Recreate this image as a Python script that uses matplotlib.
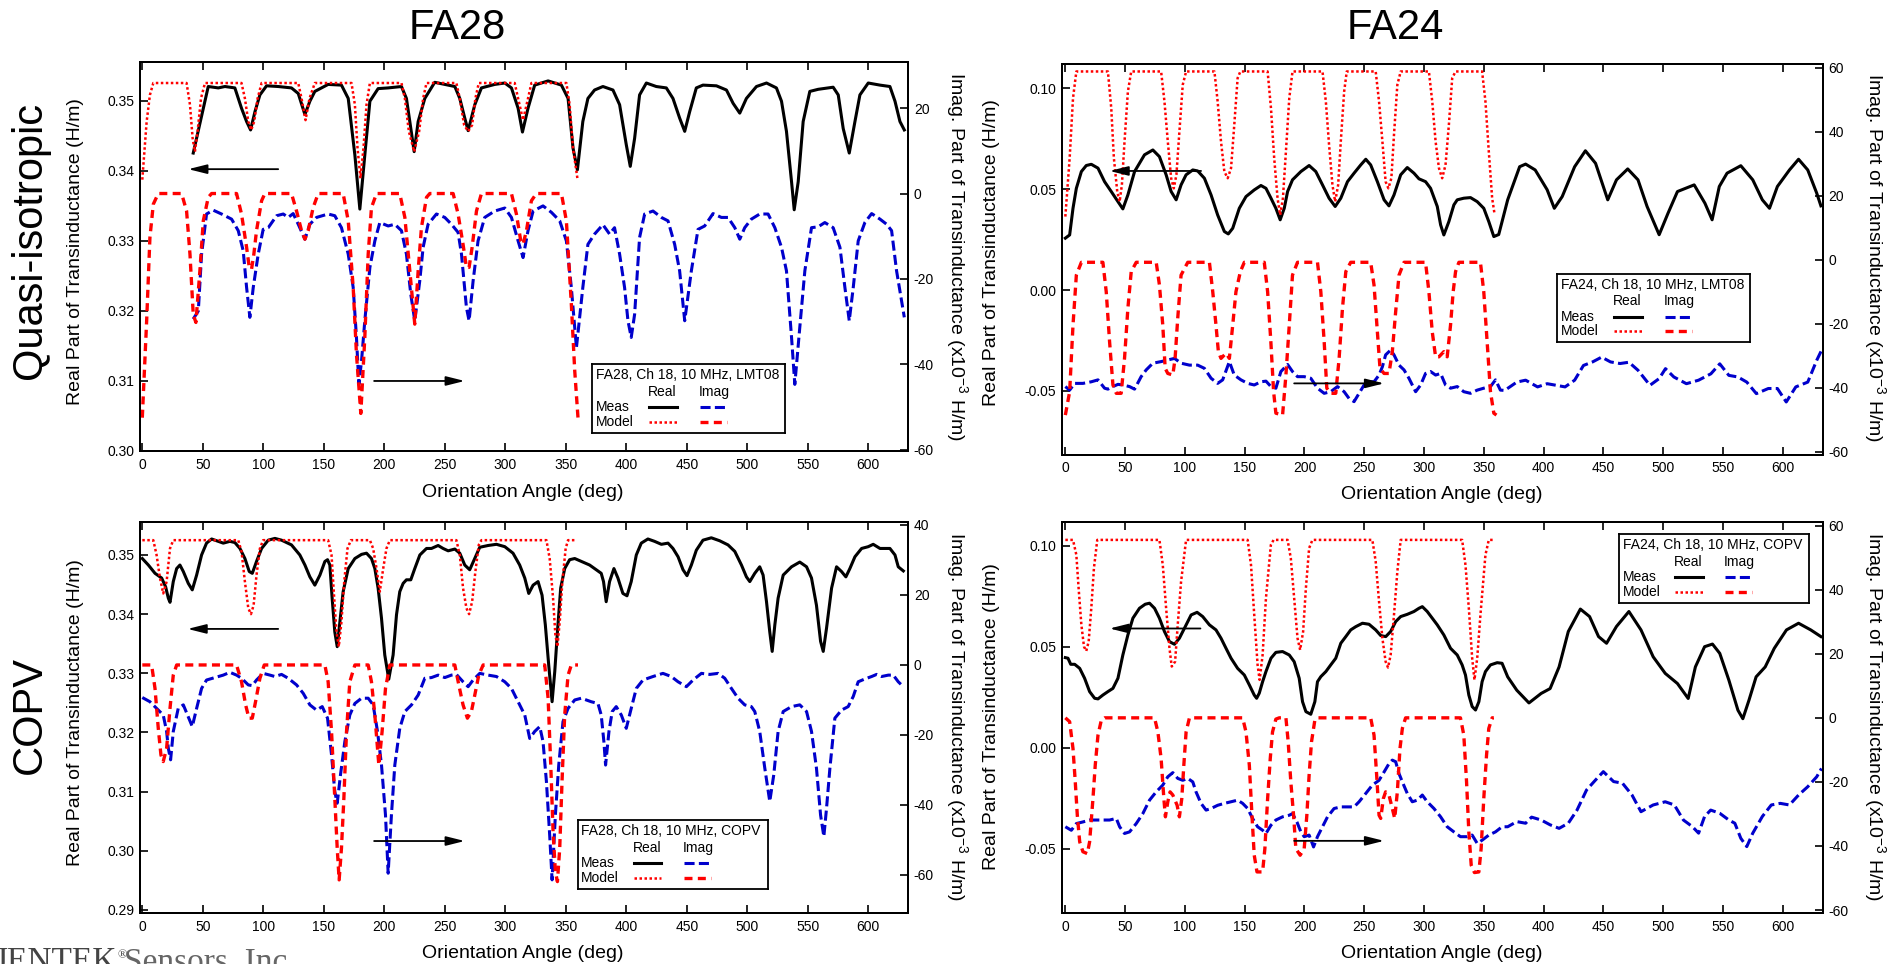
#!/usr/bin/env python3
# -*- coding: utf-8 -*-

import numpy as np
import matplotlib
matplotlib.use('Agg')
import matplotlib.pyplot as plt
from matplotlib.ticker import MultipleLocator, FuncFormatter

plt.rcParams['font.family'] = ['Liberation Sans', 'DejaVu Sans']
plt.rcParams['mathtext.fontset'] = 'custom'
plt.rcParams['mathtext.rm'] = 'Liberation Sans'
plt.rcParams['mathtext.it'] = 'Liberation Sans:italic'
plt.rcParams['axes.unicode_minus'] = False

W, H = 1900, 964

# (angle deg, value) pairs; real part in H/m, imaginary part in 1e-3 H/m

# ---- FA28, quasi-isotropic (LMT08) ----
fa28_qi_meas_re = [
  (42.1, 0.3425), (54.5, 0.3520), (62.8, 0.3518), (68.3, 0.3520), (76.5, 0.3518), (82.0, 0.3489),
  (86.2, 0.3470), (89.5, 0.3458), (93.1, 0.3484), (97.2, 0.3508), (102.7, 0.3521), (112.3, 0.3520),
  (123.3, 0.3518), (128.9, 0.3510), (134.4, 0.3480), (138.5, 0.3499), (142.6, 0.3513), (153.6, 0.3523),
  (164.6, 0.3522), (170.2, 0.3503), (175.7, 0.3422), (179.8, 0.3345), (183.9, 0.3422), (188.1, 0.3499),
  (194.9, 0.3517), (203.2, 0.3518), (214.2, 0.3520), (218.3, 0.3503), (221.1, 0.3470), (224.7, 0.3427),
  (228.0, 0.3470), (233.5, 0.3503), (241.7, 0.3526), (250.0, 0.3523), (258.3, 0.3520), (262.4, 0.3503),
  (266.5, 0.3475), (269.3, 0.3457), (274.8, 0.3494), (280.3, 0.3518), (291.3, 0.3523), (299.6, 0.3525),
  (305.1, 0.3518), (310.6, 0.3489), (314.2, 0.3455), (318.8, 0.3489), (324.3, 0.3522), (335.4, 0.3528),
  (346.4, 0.3522), (351.9, 0.3503), (356.0, 0.3432), (359.6, 0.3401), (364.1, 0.3470), (368.3, 0.3503),
  (373.8, 0.3515), (380.7, 0.3520), (389.0, 0.3515), (394.5, 0.3494), (400.0, 0.3437), (403.3, 0.3406),
  (406.9, 0.3446), (411.0, 0.3508), (416.6, 0.3525), (424.8, 0.3520), (433.1, 0.3518), (438.6, 0.3503),
  (444.1, 0.3475), (448.3, 0.3456), (452.4, 0.3484), (457.9, 0.3518), (463.4, 0.3522), (474.5, 0.3521),
  (482.8, 0.3515), (488.3, 0.3496), (493.8, 0.3482), (499.3, 0.3503), (507.6, 0.3520), (515.9, 0.3525),
  (524.1, 0.3518), (528.3, 0.3499), (532.4, 0.3456), (536.6, 0.3384), (538.8, 0.3344), (542.1, 0.3384),
  (546.2, 0.3470), (551.7, 0.3513), (558.6, 0.3516), (571.0, 0.3519), (575.2, 0.3508), (579.3, 0.3460),
  (584.3, 0.3425), (589.0, 0.3470), (593.1, 0.3508), (600.0, 0.3525), (609.7, 0.3522), (617.9, 0.3520),
  (622.1, 0.3499), (626.2, 0.3470), (629.8, 0.3458)]
fa28_qi_meas_im = [
  (42.1, -29.4), (46.3, -27.5), (49.0, -14.2), (53.1, -4.8), (58.6, -3.9), (65.5, -4.8),
  (73.8, -6.0), (79.3, -8.7), (83.4, -13.4), (86.2, -22.0), (88.9, -29.0), (91.7, -22.0),
  (95.8, -14.2), (99.9, -8.4), (104.1, -8.0), (111.0, -5.2), (116.5, -4.8), (120.6, -5.6),
  (124.7, -4.7), (128.9, -7.2), (134.4, -10.7), (138.5, -7.2), (144.0, -5.6), (153.6, -4.8),
  (159.1, -5.2), (164.6, -8.0), (170.2, -14.2), (174.3, -22.0), (177.0, -33.7), (179.0, -44.7),
  (181.2, -39.2), (183.9, -29.8), (188.1, -17.3), (192.2, -11.1), (196.3, -6.8), (203.2, -7.6),
  (208.7, -7.2), (214.2, -8.7), (218.3, -14.2), (221.9, -23.6), (225.2, -29.8), (229.3, -20.5),
  (232.1, -12.6), (236.2, -7.2), (243.1, -4.8), (250.0, -5.6), (255.5, -7.2), (261.0, -9.1),
  (263.8, -14.2), (267.9, -26.7), (270.1, -29.8), (273.4, -20.5), (277.5, -11.1), (283.0, -5.6),
  (291.3, -4.1), (299.6, -3.4), (305.1, -5.6), (310.6, -11.1), (314.7, -15.0), (318.8, -8.7),
  (323.0, -4.1), (331.2, -2.9), (338.1, -4.4), (345.0, -6.4), (350.5, -11.1), (354.6, -22.0),
  (358.8, -36.1), (364.1, -22.0), (368.3, -11.9), (373.8, -9.5), (380.7, -7.3), (386.2, -9.5),
  (390.3, -8.0), (394.5, -14.2), (398.6, -22.0), (401.4, -29.8), (404.1, -33.7), (406.9, -28.3),
  (411.0, -10.3), (415.2, -4.8), (422.1, -4.1), (429.0, -5.6), (434.5, -6.4), (440.0, -11.9),
  (444.1, -18.1), (448.3, -29.8), (453.8, -18.1), (459.3, -8.4), (464.8, -7.6), (471.7, -4.7),
  (478.6, -5.6), (484.1, -5.6), (489.7, -8.0), (493.8, -10.7), (497.9, -8.0), (503.4, -6.0),
  (510.3, -4.8), (517.2, -4.8), (522.8, -8.0), (528.3, -12.6), (532.4, -18.1), (536.6, -33.7),
  (539.3, -44.7), (543.4, -31.4), (547.6, -18.1), (553.1, -8.0), (558.6, -7.8), (564.1, -6.8),
  (571.0, -8.0), (576.6, -12.6), (580.7, -22.0), (584.3, -29.8), (587.6, -22.0), (591.7, -11.1),
  (597.2, -6.8), (602.8, -4.7), (609.7, -6.0), (615.2, -7.2), (619.3, -8.7), (623.4, -18.1),
  (629.8, -29.0)]
fa28_qi_model_re = [
  (0.0, 0.3387), (3.6, 0.3470), (6.3, 0.3508), (9.1, 0.3525), (36.6, 0.3525), (39.4, 0.3494),
  (41.6, 0.3446), (43.5, 0.3427), (45.7, 0.3456), (48.5, 0.3503), (51.8, 0.3525), (82.0, 0.3525),
  (84.8, 0.3503), (87.6, 0.3470), (90.0, 0.3458), (92.5, 0.3470), (95.3, 0.3503), (98.6, 0.3525),
  (128.9, 0.3525), (131.6, 0.3503), (134.9, 0.3472), (138.2, 0.3503), (142.6, 0.3525), (172.9, 0.3525),
  (175.7, 0.3494), (177.9, 0.3432), (180.3, 0.3389), (182.8, 0.3432), (185.3, 0.3494), (188.1, 0.3525),
  (214.2, 0.3525), (217.0, 0.3503), (220.3, 0.3456), (224.7, 0.3427), (228.8, 0.3456), (232.1, 0.3503),
  (234.9, 0.3525), (259.6, 0.3525), (262.4, 0.3503), (266.0, 0.3465), (269.3, 0.3456), (272.6, 0.3465),
  (275.3, 0.3503), (278.1, 0.3525), (307.8, 0.3525), (310.6, 0.3503), (314.7, 0.3472), (318.8, 0.3503),
  (321.6, 0.3525), (350.5, 0.3525), (353.2, 0.3494), (356.0, 0.3432), (359.6, 0.3389)]
fa28_qi_model_im = [
  (0.0, -52.5), (3.6, -29.8), (6.3, -10.3), (9.1, -2.5), (13.2, 0.0), (32.5, 0.0),
  (36.6, -4.1), (39.4, -14.2), (42.1, -28.3), (44.3, -30.2), (47.6, -18.1), (50.4, -6.4),
  (54.5, -0.9), (57.3, 0.0), (77.9, 0.0), (82.0, -4.8), (86.2, -12.6), (88.4, -17.3),
  (90.3, -17.7), (92.2, -14.2), (94.4, -8.7), (98.6, -1.7), (101.3, 0.0), (123.3, 0.0),
  (127.5, -4.1), (131.6, -8.7), (134.4, -10.7), (137.1, -8.7), (141.2, -3.3), (145.4, 0.0),
  (166.0, 0.0), (170.2, -6.4), (174.3, -22.0), (177.0, -37.6), (180.6, -51.5), (183.9, -33.7),
  (186.7, -14.2), (189.4, -3.3), (193.6, 0.0), (212.8, 0.0), (217.0, -5.6), (221.1, -18.1),
  (225.2, -30.6), (228.0, -18.1), (230.7, -8.0), (234.9, -0.9), (237.6, 0.0), (256.9, 0.0),
  (261.0, -4.8), (265.1, -11.9), (267.9, -17.3), (270.1, -17.3), (272.6, -12.6), (276.2, -4.1),
  (280.3, 0.0), (305.1, 0.0), (309.2, -4.8), (312.8, -11.1), (314.7, -11.9), (317.5, -8.7),
  (321.6, -1.7), (325.7, 0.0), (346.4, 0.0), (350.5, -6.4), (354.6, -25.9), (357.4, -41.5),
  (360.1, -52.5)]

# ---- FA24, quasi-isotropic (LMT08) ----
fa24_qi_meas_re = [
  (0.0, 0.0257), (3.6, 0.0273), (6.4, 0.0405), (9.2, 0.0504), (13.4, 0.0587), (17.5, 0.0617),
  (21.7, 0.0623), (27.3, 0.0604), (32.8, 0.0537), (38.4, 0.0488), (44.0, 0.0438), (48.1, 0.0402),
  (52.3, 0.0471), (57.9, 0.0587), (66.2, 0.0670), (73.2, 0.0694), (78.7, 0.0661), (84.3, 0.0571),
  (88.5, 0.0488), (92.7, 0.0447), (96.8, 0.0521), (101.0, 0.0571), (106.6, 0.0595), (110.7, 0.0590),
  (116.3, 0.0554), (121.9, 0.0471), (127.4, 0.0372), (133.0, 0.0290), (136.3, 0.0278), (140.0, 0.0306),
  (145.5, 0.0405), (151.1, 0.0463), (158.0, 0.0496), (163.6, 0.0518), (167.8, 0.0504), (172.0, 0.0455),
  (176.1, 0.0405), (179.7, 0.0348), (183.1, 0.0405), (185.9, 0.0488), (190.0, 0.0546), (197.0, 0.0587),
  (203.9, 0.0617), (209.5, 0.0587), (215.1, 0.0521), (220.6, 0.0455), (225.7, 0.0414), (230.4, 0.0455),
  (236.0, 0.0537), (241.5, 0.0579), (247.1, 0.0620), (251.3, 0.0648), (255.4, 0.0620), (261.0, 0.0537),
  (266.6, 0.0447), (270.7, 0.0417), (274.9, 0.0471), (280.5, 0.0571), (286.0, 0.0607), (291.6, 0.0579),
  (295.8, 0.0551), (301.3, 0.0537), (305.5, 0.0504), (311.1, 0.0414), (313.9, 0.0323), (316.6, 0.0273),
  (320.8, 0.0339), (325.0, 0.0422), (327.8, 0.0447), (333.3, 0.0455), (338.9, 0.0458), (344.5, 0.0438),
  (350.0, 0.0405), (354.2, 0.0339), (358.4, 0.0265), (362.5, 0.0275), (365.3, 0.0339), (370.0, 0.0447),
  (380.0, 0.0611), (385.0, 0.0624), (393.0, 0.0595), (403.0, 0.0497), (409.0, 0.0405), (415.6, 0.0463),
  (426.0, 0.0611), (435.0, 0.0690), (443.5, 0.0628), (453.7, 0.0447), (461.0, 0.0546), (470.4, 0.0600),
  (479.0, 0.0546), (486.6, 0.0414), (496.7, 0.0274), (504.0, 0.0379), (512.0, 0.0488), (526.0, 0.0521),
  (535.0, 0.0430), (541.0, 0.0348), (547.0, 0.0513), (553.5, 0.0579), (565.0, 0.0616), (575.0, 0.0546),
  (583.0, 0.0447), (589.0, 0.0405), (595.6, 0.0513), (605.7, 0.0595), (613.3, 0.0648), (621.0, 0.0595),
  (628.5, 0.0480), (632.0, 0.0417)]
fa24_qi_meas_im = [
  (0.0, -39.6), (3.6, -40.7), (7.8, -38.6), (14.7, -38.6), (21.7, -38.1), (27.3, -37.5),
  (32.8, -40.1), (35.6, -40.4), (39.8, -39.6), (44.0, -38.9), (48.1, -39.1), (53.7, -39.6),
  (57.9, -40.4), (63.4, -36.5), (67.6, -34.4), (73.2, -32.3), (80.1, -31.8), (85.7, -31.3),
  (91.3, -30.8), (96.8, -32.3), (103.8, -32.9), (110.7, -32.9), (116.3, -33.9), (121.9, -37.0),
  (127.4, -38.6), (131.6, -37.5), (137.2, -31.8), (141.3, -36.0), (146.9, -37.5), (152.5, -38.6),
  (158.0, -39.1), (163.6, -38.1), (167.8, -37.9), (172.0, -39.6), (176.1, -40.1), (180.3, -34.9),
  (185.9, -32.7), (190.0, -34.9), (194.2, -36.5), (199.8, -36.5), (205.3, -37.0), (210.9, -40.1),
  (216.5, -41.7), (222.0, -41.2), (227.6, -39.6), (233.2, -41.2), (237.3, -43.3), (241.5, -44.3),
  (245.7, -41.7), (249.9, -39.1), (254.0, -38.1), (258.2, -38.1), (262.4, -36.0), (265.2, -33.4),
  (267.9, -29.7), (272.1, -28.2), (274.9, -29.7), (279.1, -32.9), (283.3, -34.4), (287.4, -37.0),
  (293.0, -41.2), (297.2, -39.1), (301.3, -35.5), (305.5, -34.9), (309.7, -36.0), (313.9, -35.5),
  (318.0, -39.1), (322.2, -40.1), (327.8, -39.6), (333.3, -41.2), (338.9, -41.7), (344.5, -40.7),
  (350.0, -40.1), (355.6, -39.6), (359.8, -37.5), (363.9, -40.7), (367.5, -40.8), (377.6, -38.2),
  (385.0, -37.6), (395.0, -39.7), (403.0, -38.7), (410.6, -39.2), (418.0, -39.7), (426.0, -37.6),
  (433.4, -33.0), (441.0, -31.9), (448.6, -30.4), (456.0, -31.9), (464.0, -32.4), (471.4, -32.0),
  (479.0, -34.5), (489.0, -39.2), (496.7, -37.1), (502.0, -34.0), (509.0, -36.6), (519.5, -38.7),
  (529.7, -37.6), (540.0, -35.6), (547.4, -32.5), (555.0, -36.1), (562.6, -36.6), (570.0, -38.2),
  (578.0, -41.8), (588.0, -40.2), (595.6, -40.2), (603.0, -44.4), (611.0, -39.7), (621.0, -38.2),
  (628.5, -31.4), (632.5, -28.3)]
fa24_qi_model_re = [
  (0.0, 0.0364), (3.6, 0.0653), (6.4, 0.0950), (9.2, 0.1083), (35.6, 0.1083), (38.4, 0.0901),
  (40.6, 0.0653), (43.4, 0.0488), (45.4, 0.0438), (47.3, 0.0521), (49.5, 0.0736), (52.3, 0.0983),
  (55.1, 0.1083), (80.1, 0.1083), (82.9, 0.0934), (85.7, 0.0736), (88.5, 0.0554), (90.7, 0.0504),
  (92.9, 0.0571), (95.4, 0.0785), (98.2, 0.1017), (101.0, 0.1083), (124.7, 0.1083), (127.4, 0.0934),
  (130.2, 0.0736), (133.0, 0.0587), (135.8, 0.0554), (138.6, 0.0604), (141.3, 0.0818), (144.1, 0.1050),
  (146.4, 0.1083), (169.2, 0.1083), (172.0, 0.0901), (174.7, 0.0653), (177.5, 0.0455), (179.7, 0.0372),
  (182.0, 0.0455), (184.5, 0.0686), (187.3, 0.0950), (190.0, 0.1083), (215.1, 0.1083), (217.9, 0.0934),
  (220.6, 0.0719), (223.4, 0.0521), (225.7, 0.0438), (228.2, 0.0521), (230.4, 0.0736), (233.2, 0.0983),
  (235.4, 0.1083), (259.6, 0.1083), (262.4, 0.0934), (265.2, 0.0736), (267.9, 0.0537), (270.2, 0.0504),
  (272.7, 0.0554), (274.9, 0.0769), (277.7, 0.1017), (280.5, 0.1083), (304.1, 0.1083), (306.9, 0.0934),
  (309.7, 0.0736), (312.5, 0.0604), (315.2, 0.0554), (318.0, 0.0620), (320.8, 0.0818), (323.6, 0.1050),
  (326.4, 0.1083), (348.6, 0.1083), (351.4, 0.0934), (354.2, 0.0686), (357.0, 0.0455), (358.9, 0.0381)]
fa24_qi_model_im = [
  (0.0, -48.5), (3.6, -41.2), (6.4, -20.4), (9.2, -4.8), (13.4, -0.8), (31.4, -0.8),
  (34.2, -10.0), (37.0, -25.6), (39.8, -39.1), (42.6, -41.7), (46.7, -41.7), (49.5, -30.8),
  (52.3, -15.2), (55.1, -3.7), (59.3, -0.8), (76.0, -0.8), (78.7, -7.9), (81.5, -20.4),
  (83.5, -33.9), (85.7, -35.5), (89.9, -36.0), (91.8, -30.8), (94.0, -18.3), (96.8, -4.8),
  (102.4, -0.8), (120.5, -0.8), (123.3, -10.0), (126.0, -20.4), (128.0, -28.7), (130.2, -30.8),
  (134.4, -29.2), (137.2, -30.8), (140.0, -20.4), (142.7, -10.0), (146.4, -3.7), (149.7, -0.8),
  (166.4, -0.8), (169.2, -10.0), (171.9, -25.6), (174.2, -41.2), (176.1, -47.9), (181.7, -48.5),
  (184.5, -36.0), (187.3, -20.4), (190.0, -4.8), (194.2, -0.8), (210.9, -0.8), (213.7, -10.0),
  (216.5, -25.6), (218.7, -40.1), (222.0, -41.7), (226.2, -41.7), (229.0, -30.8), (231.8, -15.2),
  (234.6, -3.7), (238.7, -0.8), (255.4, -0.8), (258.2, -7.9), (261.0, -22.5), (263.2, -33.9),
  (266.6, -35.5), (270.7, -35.5), (273.5, -28.7), (276.3, -16.2), (279.1, -4.8), (283.3, -0.8),
  (301.3, -0.8), (304.1, -10.0), (306.9, -22.5), (309.7, -30.3), (312.5, -30.3), (316.6, -28.7),
  (319.4, -30.3), (322.2, -20.4), (324.4, -10.0), (326.4, -3.7), (329.2, -0.8), (347.2, -0.8),
  (350.0, -10.0), (352.8, -25.6), (355.6, -41.2), (358.4, -47.9), (360.6, -48.5)]

# ---- FA28, COPV ----
fa28_copv_meas_re = [
  (0.0, 0.3494), (5.0, 0.3483), (10.5, 0.3469), (16.0, 0.3461), (19.3, 0.3446), (21.5, 0.3427),
  (22.9, 0.3420), (25.6, 0.3455), (28.4, 0.3477), (31.1, 0.3483), (33.9, 0.3472), (38.0, 0.3452),
  (41.3, 0.3441), (44.9, 0.3466), (49.0, 0.3500), (53.1, 0.3520), (57.3, 0.3527), (62.8, 0.3523),
  (66.9, 0.3520), (72.4, 0.3523), (76.5, 0.3521), (80.7, 0.3511), (84.8, 0.3494), (88.4, 0.3472),
  (90.9, 0.3469), (94.4, 0.3489), (98.6, 0.3511), (104.1, 0.3525), (109.6, 0.3528), (115.1, 0.3525),
  (123.3, 0.3517), (130.2, 0.3500), (134.4, 0.3483), (138.5, 0.3463), (142.6, 0.3449), (146.8, 0.3466),
  (150.9, 0.3489), (153.1, 0.3492), (155.0, 0.3483), (156.9, 0.3427), (159.1, 0.3370), (161.1, 0.3345),
  (163.3, 0.3387), (166.0, 0.3438), (170.2, 0.3477), (175.7, 0.3494), (181.2, 0.3501), (185.3, 0.3503),
  (189.4, 0.3494), (192.2, 0.3477), (194.9, 0.3444), (197.7, 0.3393), (200.4, 0.3331), (203.7, 0.3290),
  (207.3, 0.3331), (210.1, 0.3399), (212.8, 0.3438), (215.6, 0.3452), (218.3, 0.3458), (221.9, 0.3458),
  (225.2, 0.3477), (229.4, 0.3500), (234.9, 0.3511), (239.0, 0.3511), (244.5, 0.3516), (248.6, 0.3511),
  (252.8, 0.3507), (258.3, 0.3510), (262.4, 0.3503), (266.5, 0.3483), (270.6, 0.3475), (274.8, 0.3494),
  (278.9, 0.3513), (285.8, 0.3516), (292.7, 0.3518), (299.6, 0.3514), (306.4, 0.3503), (311.9, 0.3483),
  (316.1, 0.3461), (319.4, 0.3435), (323.0, 0.3449), (327.1, 0.3455), (330.4, 0.3432), (333.1, 0.3382),
  (335.9, 0.3314), (338.7, 0.3252), (340.9, 0.3303), (343.1, 0.3370), (345.8, 0.3444), (349.1, 0.3477),
  (353.2, 0.3492), (357.4, 0.3494), (362.9, 0.3489), (369.7, 0.3483), (375.2, 0.3475), (379.3, 0.3469),
  (381.2, 0.3455), (383.4, 0.3421), (386.2, 0.3455), (389.8, 0.3477), (393.1, 0.3461), (397.2, 0.3435),
  (400.6, 0.3431), (404.1, 0.3455), (408.3, 0.3500), (412.4, 0.3520), (417.9, 0.3527), (423.4, 0.3523),
  (429.0, 0.3518), (434.5, 0.3520), (438.6, 0.3511), (442.8, 0.3497), (446.9, 0.3475), (450.2, 0.3465),
  (453.8, 0.3483), (457.9, 0.3508), (463.4, 0.3525), (470.3, 0.3529), (477.2, 0.3524), (484.1, 0.3517),
  (489.7, 0.3506), (495.2, 0.3483), (499.3, 0.3463), (502.1, 0.3455), (506.2, 0.3469), (510.3, 0.3480),
  (513.1, 0.3466), (515.9, 0.3421), (518.6, 0.3370), (520.6, 0.3337), (522.8, 0.3382), (525.5, 0.3427),
  (529.7, 0.3466), (536.6, 0.3480), (543.4, 0.3488), (549.0, 0.3480), (553.1, 0.3461), (557.2, 0.3415),
  (560.6, 0.3354), (562.8, 0.3337), (565.5, 0.3376), (569.7, 0.3444), (573.8, 0.3480), (577.9, 0.3472),
  (581.5, 0.3463), (584.8, 0.3477), (589.0, 0.3497), (594.5, 0.3511), (600.0, 0.3514), (604.1, 0.3518),
  (609.7, 0.3511), (613.8, 0.3511), (617.9, 0.3511), (622.1, 0.3500), (624.8, 0.3480), (629.0, 0.3473)]
fa28_copv_meas_im = [
  (0.0, -9.3), (6.3, -10.5), (11.8, -12.4), (17.3, -14.3), (20.1, -19.0), (21.5, -23.8),
  (23.4, -27.1), (25.6, -19.0), (29.7, -12.4), (33.9, -11.4), (37.4, -14.3), (41.3, -17.6),
  (44.9, -12.4), (49.0, -6.7), (53.1, -4.3), (60.0, -3.6), (66.9, -2.9), (72.4, -2.1),
  (77.9, -2.9), (82.0, -3.8), (87.6, -5.7), (90.9, -5.9), (94.4, -4.3), (99.9, -2.4),
  (105.5, -2.9), (109.6, -3.3), (115.1, -2.7), (120.6, -3.8), (127.5, -5.7), (133.0, -8.1),
  (138.5, -11.4), (144.0, -12.9), (148.7, -11.9), (153.1, -15.2), (156.4, -25.7), (159.1, -36.2),
  (161.1, -39.5), (163.8, -31.4), (167.4, -21.9), (171.5, -14.3), (175.7, -11.0), (181.2, -9.5),
  (186.7, -9.5), (190.8, -11.4), (194.4, -19.0), (197.7, -28.6), (201.0, -42.9), (203.2, -59.5),
  (205.9, -42.9), (208.7, -28.6), (212.8, -18.1), (217.0, -13.3), (222.5, -11.4), (228.0, -8.6),
  (233.5, -3.8), (239.0, -3.6), (244.5, -2.9), (250.0, -3.6), (255.5, -2.9), (259.6, -2.7),
  (265.1, -4.8), (269.3, -6.2), (273.4, -4.3), (278.9, -2.4), (285.8, -2.9), (292.7, -3.3),
  (299.6, -4.8), (305.1, -6.7), (310.6, -10.5), (316.1, -14.3), (320.2, -21.0), (324.3, -19.0),
  (328.5, -17.6), (331.2, -21.9), (334.0, -33.3), (336.7, -48.6), (338.7, -61.4), (341.4, -42.9),
  (344.2, -28.6), (347.7, -16.2), (351.9, -12.4), (357.4, -10.0), (362.9, -9.5), (371.0, -10.5),
  (376.6, -11.0), (379.3, -14.3), (381.5, -21.9), (382.9, -28.6), (385.7, -19.0), (388.4, -13.3),
  (391.7, -11.9), (395.9, -14.3), (400.0, -18.1), (404.1, -12.4), (408.3, -6.7), (413.8, -4.3),
  (422.1, -3.3), (430.3, -2.4), (437.2, -3.3), (442.8, -4.8), (449.7, -6.2), (455.2, -4.3),
  (462.1, -2.4), (469.0, -2.7), (475.9, -2.4), (481.4, -3.8), (486.9, -6.7), (492.4, -9.5),
  (497.9, -11.4), (503.4, -11.9), (506.2, -13.3), (510.3, -19.0), (514.5, -29.5), (518.6, -39.0),
  (521.9, -31.4), (525.5, -19.0), (529.7, -13.3), (536.6, -11.9), (543.4, -11.4), (549.0, -13.3),
  (553.1, -19.0), (557.2, -29.5), (560.6, -42.9), (563.3, -49.0), (565.5, -41.0), (568.3, -29.5),
  (572.4, -15.2), (577.9, -12.9), (583.4, -11.9), (587.6, -9.0), (591.7, -4.8), (597.2, -4.0),
  (602.8, -3.3), (606.9, -2.7), (611.0, -3.3), (616.6, -2.9), (620.7, -2.9), (624.8, -4.8),
  (629.0, -6.2)]
fa28_copv_model_re = [
  (0.0, 0.3525), (9.1, 0.3525), (11.8, 0.3500), (14.6, 0.3461), (17.3, 0.3435), (20.1, 0.3455),
  (22.9, 0.3511), (25.6, 0.3525), (79.3, 0.3525), (82.0, 0.3506), (84.8, 0.3455), (87.6, 0.3410),
  (89.8, 0.3400), (92.0, 0.3415), (94.4, 0.3466), (97.2, 0.3511), (99.9, 0.3525), (153.6, 0.3525),
  (156.4, 0.3500), (158.6, 0.3427), (160.5, 0.3370), (162.4, 0.3345), (164.6, 0.3387), (166.9, 0.3455),
  (169.6, 0.3511), (172.4, 0.3525), (188.1, 0.3525), (190.8, 0.3511), (193.6, 0.3477), (196.3, 0.3438),
  (199.1, 0.3477), (201.8, 0.3511), (204.6, 0.3525), (259.6, 0.3525), (262.4, 0.3500), (265.1, 0.3444),
  (267.9, 0.3410), (270.1, 0.3400), (272.6, 0.3421), (275.3, 0.3472), (278.1, 0.3517), (280.3, 0.3525),
  (334.0, 0.3525), (336.7, 0.3494), (339.5, 0.3427), (341.4, 0.3365), (343.1, 0.3345), (345.0, 0.3387),
  (347.2, 0.3455), (349.9, 0.3511), (351.9, 0.3525), (357.4, 0.3525)]
fa28_copv_model_im = [
  (0.0, 0.0), (7.7, 0.0), (10.5, -6.7), (13.2, -18.1), (15.4, -25.7), (17.3, -27.6),
  (20.1, -23.8), (22.9, -12.4), (25.6, -2.9), (28.4, 0.0), (77.9, 0.0), (82.0, -4.8),
  (85.4, -11.4), (88.1, -15.2), (90.9, -15.2), (93.6, -10.5), (97.2, -3.8), (100.8, 0.0),
  (150.9, 0.0), (153.6, -4.8), (156.4, -19.0), (159.1, -38.1), (161.1, -52.4), (162.7, -61.4),
  (164.6, -52.4), (166.6, -38.1), (168.8, -19.0), (171.5, -4.8), (175.7, 0.0), (186.7, 0.0),
  (189.4, -4.8), (192.2, -14.3), (195.5, -28.6), (198.2, -19.0), (201.0, -6.7), (204.6, 0.0),
  (258.3, 0.0), (261.6, -5.7), (265.1, -11.4), (268.7, -15.2), (272.0, -13.3), (274.8, -8.6),
  (278.1, -2.9), (281.7, 0.0), (332.6, 0.0), (335.4, -9.5), (337.6, -28.6), (339.5, -47.6),
  (341.4, -59.0), (343.1, -61.9), (345.0, -52.4), (346.9, -33.3), (349.1, -14.3), (351.9, -2.9),
  (354.6, 0.0), (360.1, 0.0)]

# ---- FA24, COPV ----
fa24_copv_meas_re = [
  (0.0, 0.0446), (2.2, 0.0443), (4.5, 0.0413), (7.8, 0.0413), (12.0, 0.0393), (16.1, 0.0344),
  (20.3, 0.0278), (24.5, 0.0245), (27.3, 0.0242), (31.4, 0.0261), (35.6, 0.0278), (39.8, 0.0294),
  (44.0, 0.0344), (48.1, 0.0459), (52.3, 0.0558), (56.5, 0.0641), (62.0, 0.0690), (66.8, 0.0710),
  (70.4, 0.0715), (74.6, 0.0690), (78.7, 0.0641), (82.9, 0.0575), (87.1, 0.0525), (91.3, 0.0512),
  (95.4, 0.0542), (99.6, 0.0591), (105.2, 0.0657), (110.2, 0.0670), (114.9, 0.0649), (120.5, 0.0608),
  (126.0, 0.0583), (130.2, 0.0542), (134.4, 0.0492), (138.6, 0.0443), (144.1, 0.0393), (149.7, 0.0360),
  (153.9, 0.0311), (158.0, 0.0261), (160.0, 0.0245), (162.2, 0.0270), (165.0, 0.0327), (167.8, 0.0377),
  (172.0, 0.0443), (176.1, 0.0472), (181.7, 0.0476), (187.3, 0.0459), (191.4, 0.0426), (195.6, 0.0344),
  (198.4, 0.0228), (201.2, 0.0179), (205.3, 0.0166), (208.7, 0.0228), (210.9, 0.0327), (213.7, 0.0352),
  (217.9, 0.0377), (222.0, 0.0410), (226.2, 0.0443), (230.4, 0.0517), (234.6, 0.0550), (238.7, 0.0583),
  (242.9, 0.0599), (248.5, 0.0616), (254.0, 0.0611), (259.6, 0.0583), (263.8, 0.0555), (268.0, 0.0550),
  (272.1, 0.0575), (276.3, 0.0624), (280.5, 0.0649), (286.0, 0.0660), (291.6, 0.0674), (295.8, 0.0690),
  (298.6, 0.0698), (302.7, 0.0674), (306.9, 0.0641), (311.1, 0.0608), (316.6, 0.0558), (322.2, 0.0492),
  (327.8, 0.0459), (331.9, 0.0410), (334.7, 0.0360), (337.5, 0.0261), (340.3, 0.0204), (343.1, 0.0187),
  (345.9, 0.0228), (348.6, 0.0327), (351.4, 0.0377), (355.6, 0.0410), (361.2, 0.0421), (365.3, 0.0418),
  (370.0, 0.0351), (377.6, 0.0285), (387.8, 0.0222), (398.0, 0.0269), (405.5, 0.0293), (413.0, 0.0400),
  (420.7, 0.0575), (430.8, 0.0686), (438.5, 0.0649), (446.0, 0.0550), (452.7, 0.0517), (461.0, 0.0600),
  (471.4, 0.0674), (481.5, 0.0583), (491.7, 0.0450), (501.8, 0.0368), (512.0, 0.0318), (521.0, 0.0244),
  (527.0, 0.0400), (534.7, 0.0500), (541.3, 0.0513), (547.4, 0.0467), (555.0, 0.0335), (562.6, 0.0186),
  (566.7, 0.0144), (571.8, 0.0235), (577.8, 0.0351), (585.4, 0.0400), (593.0, 0.0492), (603.2, 0.0583),
  (613.3, 0.0616), (623.5, 0.0583), (632.0, 0.0550)]
fa24_copv_meas_im = [
  (0.0, -34.0), (5.0, -35.1), (9.2, -33.0), (14.7, -32.5), (20.3, -31.9), (31.4, -31.9),
  (37.0, -31.9), (42.6, -31.4), (45.4, -34.0), (49.5, -36.1), (53.7, -35.6), (59.3, -33.0),
  (64.8, -29.9), (70.4, -25.7), (76.0, -23.1), (81.5, -21.0), (85.7, -18.4), (89.9, -17.1),
  (94.0, -18.9), (98.2, -19.5), (102.4, -18.9), (106.6, -20.0), (109.3, -23.1), (113.5, -26.7),
  (117.7, -28.8), (121.9, -28.3), (127.4, -27.3), (133.0, -26.7), (138.6, -26.2), (144.1, -25.7),
  (148.3, -26.7), (152.5, -28.3), (156.6, -31.4), (160.8, -34.0), (165.0, -35.1), (167.8, -36.1),
  (172.0, -33.5), (176.1, -31.9), (181.7, -30.9), (187.3, -30.4), (190.0, -29.9), (193.7, -32.5),
  (197.0, -35.6), (199.8, -37.1), (203.9, -36.6), (207.6, -40.3), (210.9, -37.1), (215.1, -34.0),
  (219.3, -30.9), (224.8, -28.3), (230.4, -27.8), (235.9, -27.8), (241.5, -27.8), (245.7, -26.2),
  (251.3, -23.6), (256.8, -21.0), (262.4, -19.5), (266.6, -16.9), (270.7, -14.3), (273.5, -13.2),
  (276.3, -13.7), (279.1, -17.4), (281.9, -20.0), (286.0, -23.6), (290.2, -26.2), (294.4, -25.7),
  (298.6, -24.1), (302.7, -26.2), (308.3, -28.3), (313.9, -30.9), (319.4, -34.0), (325.0, -35.6),
  (330.5, -37.1), (336.1, -37.1), (340.3, -36.6), (344.5, -39.2), (348.6, -38.2), (354.2, -36.6),
  (359.8, -35.6), (365.3, -34.0), (370.0, -34.0), (377.6, -32.4), (385.0, -32.9), (390.0, -31.0),
  (398.0, -31.9), (405.5, -33.4), (413.0, -34.5), (420.7, -32.9), (428.0, -28.8), (436.0, -22.5),
  (443.5, -19.4), (450.0, -16.8), (458.6, -19.9), (466.0, -20.4), (474.0, -24.1), (481.5, -29.3),
  (491.7, -27.2), (501.8, -26.2), (509.4, -27.2), (517.0, -31.9), (524.6, -34.0), (529.7, -36.0),
  (534.7, -30.8), (539.8, -28.8), (547.4, -29.8), (555.0, -31.9), (560.0, -32.9), (565.0, -37.6),
  (570.0, -40.2), (575.0, -36.0), (583.0, -30.8), (590.5, -27.2), (598.0, -26.7), (605.7, -27.2),
  (613.3, -24.1), (621.0, -21.5), (628.5, -18.4), (632.5, -15.8)]
fa24_copv_model_re = [
  (0.0, 0.1028), (6.4, 0.1028), (9.2, 0.0954), (11.1, 0.0789), (13.4, 0.0608), (15.6, 0.0500),
  (17.5, 0.0479), (19.5, 0.0525), (21.7, 0.0690), (23.9, 0.0888), (26.7, 0.1028), (78.7, 0.1028),
  (81.5, 0.0904), (84.3, 0.0690), (87.1, 0.0492), (89.0, 0.0402), (91.8, 0.0426), (94.0, 0.0608),
  (96.8, 0.0822), (101.0, 0.1028), (152.5, 0.1028), (155.3, 0.0904), (158.0, 0.0657), (160.8, 0.0410),
  (162.5, 0.0336), (165.0, 0.0459), (167.8, 0.0740), (171.9, 0.1003), (174.2, 0.1028), (185.9, 0.1028),
  (188.6, 0.0937), (191.4, 0.0740), (194.2, 0.0542), (196.4, 0.0484), (198.9, 0.0575), (201.2, 0.0789),
  (203.9, 0.0987), (206.7, 0.1028), (256.8, 0.1028), (259.6, 0.0921), (262.4, 0.0723), (265.2, 0.0542),
  (267.9, 0.0426), (269.9, 0.0397), (272.1, 0.0459), (274.9, 0.0657), (277.7, 0.0871), (280.5, 0.1028),
  (331.9, 0.1028), (334.7, 0.0904), (337.5, 0.0690), (340.3, 0.0443), (342.2, 0.0336), (344.5, 0.0443),
  (347.2, 0.0657), (351.4, 0.0954), (354.2, 0.1028), (358.4, 0.1028)]
fa24_copv_model_im = [
  (0.0, 0.0), (3.6, -1.2), (6.4, -9.6), (8.3, -20.0), (10.0, -30.4), (12.0, -38.7),
  (14.7, -41.8), (18.4, -42.4), (20.3, -38.7), (23.1, -25.2), (25.0, -14.8), (27.3, -5.4),
  (30.1, -0.7), (32.8, 0.0), (74.6, 0.0), (77.4, -4.4), (80.1, -12.7), (82.4, -25.2),
  (83.7, -30.9), (85.7, -26.2), (87.6, -23.1), (89.9, -24.1), (93.5, -27.3), (95.4, -30.9),
  (97.4, -25.2), (99.1, -14.8), (101.0, -4.4), (103.8, 0.0), (148.3, 0.0), (151.1, -4.4),
  (153.9, -14.8), (156.1, -30.4), (158.0, -42.9), (160.3, -48.1), (165.0, -48.1), (166.9, -40.8),
  (169.2, -25.2), (171.4, -12.7), (173.3, -4.4), (176.1, -0.4), (178.9, 0.0), (184.5, 0.0),
  (186.4, -7.5), (188.6, -20.0), (190.9, -30.4), (192.8, -40.8), (196.4, -42.9), (199.8, -40.8),
  (202.0, -30.4), (203.9, -17.9), (205.9, -7.5), (208.7, -0.7), (210.9, 0.0), (255.4, 0.0),
  (258.2, -5.4), (260.4, -17.9), (262.4, -30.4), (263.8, -31.4), (266.0, -25.2), (267.9, -23.1),
  (270.7, -24.1), (273.5, -28.3), (275.5, -31.4), (277.7, -23.1), (279.9, -9.6), (281.9, -3.3),
  (284.6, 0.0), (330.5, 0.0), (333.3, -5.4), (335.6, -20.0), (337.5, -35.6), (339.5, -46.0),
  (342.2, -48.3), (345.9, -48.1), (347.8, -40.8), (350.0, -25.2), (352.3, -11.7), (354.2, -3.3),
  (357.0, 0.0), (358.4, 0.0)]

# arrow (start, end) points, in the units of the axis they point to
arrows_re = {'fa28_qi': ((112.3, 0.3402), (38.0, 0.3402)), 'fa24_qi': ((113.5, 0.0590), (37.0, 0.0590)),
             'fa28_copv': ((112.3, 0.3375), (37.4, 0.3375)), 'fa24_copv': ((113.0, 0.0590), (37.0, 0.0590))}
arrows_im = {'fa28_qi': ((191.6, -43.9), (266.5, -43.9)), 'fa24_qi': ((191.4, -38.6), (266.6, -38.6)),
             'fa28_copv': ((191.6, -50.3), (266.5, -50.3)), 'fa24_copv': ((191.4, -38.4), (266.6, -38.4))}

legend_titles = {'fa28_qi': 'FA28, Ch 18, 10 MHz, LMT08', 'fa24_qi': 'FA24, Ch 18, 10 MHz, LMT08',
                 'fa28_copv': 'FA28, Ch 18, 10 MHz, COPV', 'fa24_copv': 'FA24, Ch 18, 10 MHz, COPV'}

STYLE = {
  'meas_re': dict(color='black', lw=2.2, ls='-'),
  'meas_im': dict(color='#0000cc', lw=2.2, ls=(0, (3.3, 1.4))),
  'model_re': dict(color='#ff0000', lw=1.8, ls=(0, (1.0, 1.0))),
  'model_im': dict(color='#ff0000', lw=2.4, ls=(0, (2.4, 1.6))),
}
ARROW = dict(arrowstyle='-|>,head_length=0.8,head_width=0.2', mutation_scale=14,
             color='black', lw=1.3, shrinkA=0, shrinkB=0)


def px_rect(x0, y0, x1, y1):
  return [x0 / W, 1 - y1 / H, (x1 - x0) / W, (y1 - y0) / H]


def fig_text(fig, x, y, s, **kw):
  fig.text(x / W, 1 - y / H, s, ha='center', va='center', **kw)


def fmt_re(v, pos):
  if abs(v) < 1e-9:
    v = 0.0
  return '{:.2f}'.format(v)


def fmt_im(v, pos):
  return '{:d}'.format(int(round(v)))


def plotPanel(fig, key, rect, curves, xlim, ylim_re, ylim_im, step_re, leg_rect):
  meas_re, meas_im, model_re, model_im = curves
  ax = fig.add_axes(px_rect(*rect))
  ax2 = ax.twinx()

  for pts, name, a in [(meas_re, 'meas_re', ax), (model_re, 'model_re', ax),
                       (meas_im, 'meas_im', ax2), (model_im, 'model_im', ax2)]:
    x, y = np.array(pts).T
    a.plot(x, y, **STYLE[name])

  ax.set_xlim(*xlim)
  ax.set_ylim(*ylim_re)
  ax2.set_ylim(*ylim_im)
  ax.xaxis.set_major_locator(MultipleLocator(50))
  ax.yaxis.set_major_locator(MultipleLocator(step_re))
  ax2.yaxis.set_major_locator(MultipleLocator(20))
  ax.yaxis.set_major_formatter(FuncFormatter(fmt_re))
  ax2.yaxis.set_major_formatter(FuncFormatter(fmt_im))
  ax.tick_params(axis='x', direction='in', top=True, length=6, width=1.2, labelsize=10, pad=5)
  ax.tick_params(axis='y', direction='in', right=False, length=6, width=1.2, labelsize=10, pad=4)
  ax2.tick_params(axis='y', direction='in', length=6, width=1.2, labelsize=10, pad=4)
  for a in (ax, ax2):
    for s in a.spines.values():
      s.set_linewidth(1.4)

  ax.annotate('', xy=arrows_re[key][1], xytext=arrows_re[key][0], arrowprops=ARROW)
  ax2.annotate('', xy=arrows_im[key][1], xytext=arrows_im[key][0], arrowprops=ARROW)

  # hand-built legend box: Real/Imag columns, Meas/Model rows
  lax = fig.add_axes(px_rect(*leg_rect))
  lax.set_xlim(0, 1)
  lax.set_ylim(0, 1)
  lax.set_xticks([])
  lax.set_yticks([])
  for s in lax.spines.values():
    s.set_linewidth(1.3)
  lax.text(0.02, 0.84, legend_titles[key], fontsize=10, va='center')
  lax.text(0.365, 0.60, 'Real', fontsize=10, ha='center', va='center')
  lax.text(0.635, 0.60, 'Imag', fontsize=10, ha='center', va='center')
  lax.text(0.02, 0.37, 'Meas', fontsize=10, va='center')
  lax.text(0.02, 0.16, 'Model', fontsize=10, va='center')
  lax.plot([0.295, 0.44], [0.37, 0.37], **STYLE['meas_re'])
  lax.plot([0.56, 0.70], [0.37, 0.37], **STYLE['meas_im'])
  lax.plot([0.295, 0.44], [0.16, 0.16], **STYLE['model_re'])
  lax.plot([0.56, 0.70], [0.16, 0.16], **STYLE['model_im'])
  return ax, ax2


def main():
  fig = plt.figure(figsize=(W / 100, H / 100), dpi=100)

  xl_left = (-1.9, 633.1)
  xl_right = (-2.8, 633.5)

  plotPanel(fig, 'fa28_qi', (140, 62, 908.3, 451),
            (fa28_qi_meas_re, fa28_qi_meas_im, fa28_qi_model_re, fa28_qi_model_im),
            xl_left, (0.29996, 0.3555), (-60.3, 30.8), 0.01, (592, 364, 785, 433))
  plotPanel(fig, 'fa24_qi', (1062, 64, 1822.7, 454.5),
            (fa24_qi_meas_re, fa24_qi_meas_im, fa24_qi_model_re, fa24_qi_model_im),
            xl_right, (-0.0815, 0.112), (-60.8, 61.1), 0.05, (1557, 274, 1750, 342))
  plotPanel(fig, 'fa28_copv', (140, 522.3, 908.3, 913.3),
            (fa28_copv_meas_re, fa28_copv_meas_im, fa28_copv_model_re, fa28_copv_model_im),
            xl_left, (0.28944, 0.35552), (-70.95, 40.76), 0.01, (577.5, 820, 767.5, 889))
  plotPanel(fig, 'fa24_copv', (1062, 522.3, 1822.7, 912.7),
            (fa24_copv_meas_re, fa24_copv_meas_im, fa24_copv_model_re, fa24_copv_model_im),
            xl_right, (-0.0815, 0.1115), (-60.83, 61.04), 0.05, (1619, 534, 1809, 603))

  # column and row headings
  fig_text(fig, 457, 28, 'FA28', fontsize=30)
  fig_text(fig, 1395, 28, 'FA24', fontsize=30)
  fig_text(fig, 30, 240, 'Quasi-isotropic', fontsize=30, rotation=90)
  fig_text(fig, 30, 715, 'COPV', fontsize=30, rotation=90)

  re_label = 'Real Part of Transinductance (H/m)'
  im_label = 'Imag. Part of Transinductance (x10$^{-3}$ H/m)'
  for x, y in [(76, 252), (76, 713), (991, 253), (991, 717)]:
    fig_text(fig, x, y, re_label, fontsize=14, rotation=90)
  for x, y in [(957, 257), (957, 717), (1875, 258), (1875, 717)]:
    fig_text(fig, x, y, im_label, fontsize=14, rotation=-90)
  for x, y in [(523, 493), (1442, 495), (523, 953), (1442, 953)]:
    fig_text(fig, x, y, 'Orientation Angle (deg)', fontsize=14)

  # company name along the bottom edge, cut off by the figure border
  fig.text(-6 / W, 1 - 970 / H, 'JENTEK', family='Liberation Serif', fontsize=24, color='#444444')
  fig.text(117 / W, 1 - 958 / H, '\u00ae', family='Liberation Serif', fontsize=9, color='#444444')
  fig.text(124 / W, 1 - 970 / H, 'Sensors, Inc.', family='Liberation Serif', fontsize=24, color='#666666')

  fig.savefig('out.png', dpi=100)
  return 0


if __name__ == '__main__':
  main()
